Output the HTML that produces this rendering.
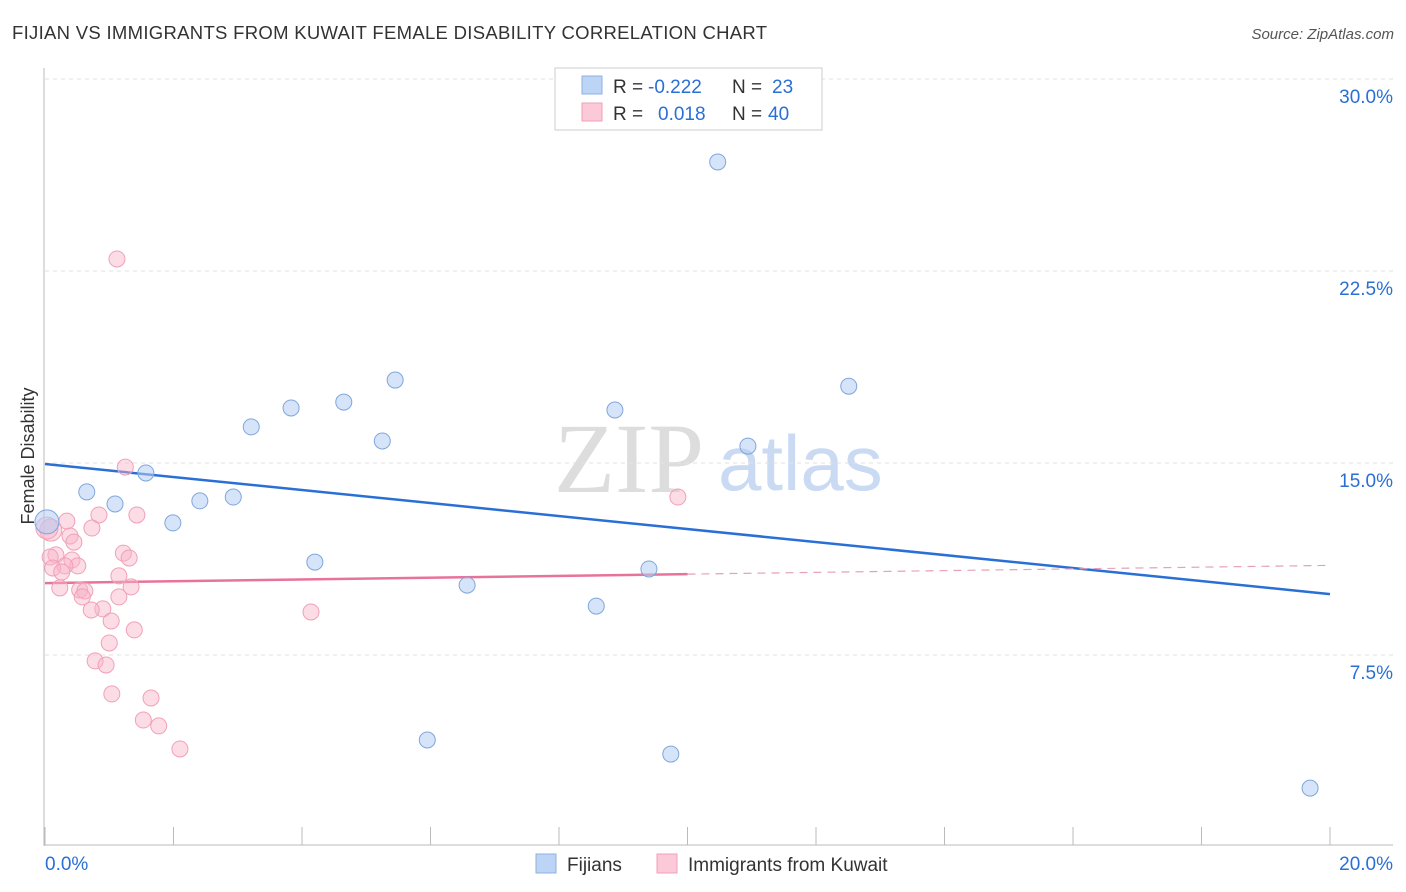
<!DOCTYPE html>
<html><head><meta charset="utf-8"><style>
body{margin:0;background:#fff;font-family:"Liberation Sans",sans-serif;}
#wrap{position:relative;width:1406px;height:892px;overflow:hidden}
</style></head><body>
<div id="wrap">
<svg id="chart" width="1406" height="892">
<text x="12" y="39" font-size="18.5" fill="#333" letter-spacing="0.3">FIJIAN VS IMMIGRANTS FROM KUWAIT FEMALE DISABILITY CORRELATION CHART</text>
<text x="1394" y="39" font-size="15" fill="#555" text-anchor="end" font-style="italic">Source: ZipAtlas.com</text>
<text x="34" y="456" font-size="18" fill="#333" text-anchor="middle" transform="rotate(-90 34 456)">Female Disability</text>
<text x="554" y="492" font-size="100" fill="#ddd" font-family="Liberation Serif">ZIP</text>
<text x="718" y="490" font-size="78" fill="#c9daf2">atlas</text>
<g id="grid"></g><g id="axes"></g><g id="lines"></g><g id="pts"></g>
<g>
<rect x="555" y="68" width="267" height="62" fill="#fff" stroke="#ccc"/>
<rect x="582" y="76" width="20" height="18" fill="#bcd4f6" stroke="#8fb0e0"/>
<rect x="582" y="103" width="20" height="18" fill="#fbc9d7" stroke="#f0a0b8"/>
<text x="613" y="93" font-size="19" fill="#333">R =</text>
<text x="648" y="93" font-size="19" fill="#2a6fd6">-0.222</text>
<text x="732" y="93" font-size="19" fill="#333">N =</text>
<text x="772" y="93" font-size="19" fill="#2a6fd6">23</text>
<text x="613" y="120" font-size="19" fill="#333">R =</text>
<text x="658" y="120" font-size="19" fill="#2a6fd6">0.018</text>
<text x="732" y="120" font-size="19" fill="#333">N =</text>
<text x="768" y="120" font-size="19" fill="#2a6fd6">40</text>
</g>
<g>
<rect x="536" y="854" width="20" height="19" fill="#bcd4f6" stroke="#8fb0e0"/>
<text x="567" y="871" font-size="19" fill="#333">Fijians</text>
<rect x="657" y="854" width="20" height="19" fill="#fbc9d7" stroke="#f0a0b8"/>
<text x="688" y="871" font-size="19" fill="#333">Immigrants from Kuwait</text>
</g>
</svg>
</div>
<script>
const yTicks=[7.5,15,22.5,30];
const yTickLabels=["7.5%","15.0%","22.5%","30.0%"];
const xTicks=[0,2,4,6,8,10,12,14,16,18,20];
const fijiX=[10.47,5.45,12.51,3.83,4.65,8.87,3.21,5.25,10.94,1.57,0.65,1.09,2.41,2.93,1.99,0.03,4.20,6.57,9.40,8.58,5.95,9.74,19.69];
const fijiY=[26.76,18.24,18.0,17.15,17.38,17.07,16.41,15.86,15.66,14.61,13.87,13.40,13.52,13.67,12.66,12.7,11.13,10.23,10.86,9.41,4.18,3.63,2.30];
const kuwX=[1.12,1.25,9.85,1.43,0.84,0.34,0.73,0.39,0.45,0.09,1.22,1.31,0.17,0.08,0.42,0.51,0.31,0.12,0.26,1.15,1.34,0.23,0.54,0.62,0.58,1.15,0.90,0.72,4.14,1.03,1.39,1.00,0.78,0.95,1.04,1.65,1.53,1.77,2.10,0.03];
const kuwY=[22.97,14.84,13.67,12.97,12.97,12.73,12.46,12.15,11.91,12.38,11.48,11.29,11.41,11.33,11.21,10.98,10.98,10.9,10.74,10.59,10.16,10.12,10.04,10.0,9.77,9.77,9.30,9.26,9.18,8.83,8.48,7.97,7.27,7.11,5.98,5.82,4.96,4.73,3.83,12.46];
const fijiTrend=[14.96,9.88];
const kuwTrend=[10.31,10.66,11.0];
const NS="http://www.w3.org/2000/svg";
const X=v=>45+v*64.25, Y=v=>847-v*25.6;
function mk(p,tag,a){const e=document.createElementNS(NS,tag);for(const k in a)e.setAttribute(k,a[k]);document.getElementById(p).appendChild(e);return e;}
yTicks.forEach((t,i)=>{
 const l=mk('grid','line',{x1:45,x2:1393,y1:Y(t),y2:Y(t),stroke:'#e2e2e2','stroke-dasharray':'4,4'});
 
 
 const tx=mk('grid','text',{x:1393,y:Y(t)+24,'font-size':19,fill:'#2a6fd6','text-anchor':'end'});
 tx.textContent=yTickLabels[i];
 
 
});
let a=mk('axes','line',{x1:44,x2:44,y1:68,y2:846,stroke:'#bbb'});


a=mk('axes','line',{x1:44,x2:1393,y1:845,y2:845,stroke:'#bbb'});


xTicks.forEach(t=>{const l=mk('axes','line',{x1:X(t),x2:X(t),y1:827,y2:845,stroke:'#bbb'});
 
 });
let t=mk('axes','text',{x:45,y:870,'font-size':19,fill:'#2a6fd6'});t.textContent='0.0%';


t=mk('axes','text',{x:1393,y:870,'font-size':19,fill:'#2a6fd6','text-anchor':'end'});t.textContent='20.0%';


let ln=mk('lines','line',{x1:X(0),y1:Y(fijiTrend[0]),x2:X(20),y2:Y(fijiTrend[1]),stroke:'#2a6fd6','stroke-width':2.5});


ln=mk('lines','line',{x1:X(0),y1:Y(kuwTrend[0]),x2:X(10),y2:Y(kuwTrend[1]),stroke:'#e8739a','stroke-width':2.5});


ln=mk('lines','line',{x1:X(10),y1:Y(kuwTrend[1]),x2:X(20),y2:Y(kuwTrend[2]),stroke:'#e8a0b8','stroke-width':1.2,'stroke-dasharray':'8,6'});


kuwX.forEach((x,i)=>{const c=mk('pts','circle',{cx:X(x),cy:Y(kuwY[i]),r:(i==9||i==39)?11:8,fill:'rgba(248,180,200,0.45)',stroke:'#f0a0b8','stroke-width':1});
 
 });
fijiX.forEach((x,i)=>{const c=mk('pts','circle',{cx:X(x),cy:Y(fijiY[i]),r:i==15?12:8,fill:'rgba(180,206,244,0.55)',stroke:'#7fa6dc','stroke-width':1});
 
 });
</script>
</body></html>
